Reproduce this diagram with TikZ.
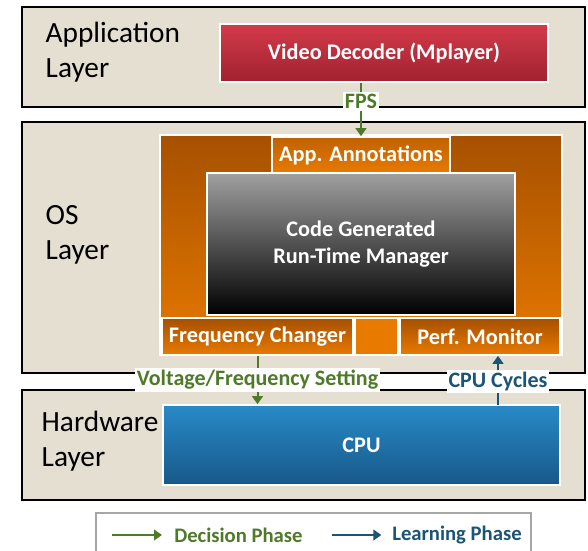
\documentclass[tikz,border=0pt]{standalone}
\usepackage{fontspec}
\setmainfont{Carlito}
\usetikzlibrary{arrows.meta,positioning}
\definecolor{layerbg}{RGB}{229,223,209}
\definecolor{decG}{RGB}{78,122,42}
\definecolor{learnB}{RGB}{28,84,118}
\definecolor{redT}{RGB}{212,58,74}
\definecolor{redB}{RGB}{160,34,48}
\definecolor{orgD}{RGB}{166,80,0}
\definecolor{orgL}{RGB}{232,122,0}
\definecolor{cpuT}{RGB}{40,138,200}
\definecolor{cpuB}{RGB}{24,88,136}

\begin{document}
\begin{tikzpicture}[x=0.75pt, y=-0.75pt,
  layer/.style={rectangle, draw=black, line width=2.2pt, fill=layerbg, inner sep=0pt},
  laytxt/.style={anchor=west, align=left, font=\fontsize{22}{26}\selectfont},
  blk/.style={rectangle, draw=white, line width=1.2pt, inner sep=0pt, text=white,
              align=center, font=\fontsize{16.7}{20}\selectfont\bfseries},
  orgbox/.style={blk, top color=orgD, bottom color=orgL},
  lbl/.style={fill=white, inner sep=1.5pt, font=\fontsize{16.5}{20}\selectfont\bfseries},
  decarrow/.style={draw=decG, line width=1.5pt, -{Triangle[length=6pt,width=8pt]}},
  learnarrow/.style={draw=learnB, line width=1.5pt, -{Triangle[length=6pt,width=8pt]}}]
  \useasboundingbox (0,0) rectangle (588,550);
  \fill[white] (0,0) rectangle (588,550);

  % layers
  \node[layer, minimum width=422.25pt, minimum height=75pt] (applayer) at (303.5,57) {};
  \node[layer, minimum width=422.25pt, minimum height=188.25pt] (oslayer) at (303.5,247.5) {};
  \node[layer, minimum width=422.25pt, minimum height=82.5pt] (hwlayer) at (303.5,445) {};
  \node[laytxt] (apptxt) at (41,52) {Application\\Layer};
  \node[laytxt] (ostxt) at (41,235) {OS\\Layer};
  \node[laytxt] (hwtxt) at (37,441) {Hardware\\Layer};

  % application
  \node[blk, top color=redT, bottom color=redB, minimum width=246pt, minimum height=43.5pt]
    (decoder) at (384,53) {Video Decoder (Mplayer)};

  % run-time manager
  \node[orgbox, minimum width=301.5pt, minimum height=165pt] (rtmframe) at (361,245) {};
  \node[orgbox, top color=orgD!60!orgL, minimum width=133.5pt, minimum height=27pt]
    (annot) at (361,155) {App. Annotations};
  \node[blk, top color=black!37, bottom color=black, minimum width=231pt, minimum height=106.5pt]
    (rtm) at (361,244) {Code Generated\\Run-Time Manager};
  \node[orgbox, minimum width=143.25pt, minimum height=27.75pt] (freqch) at (257.5,336.5) {Frequency Changer};
  \node[blk, fill=orgL, minimum width=32.25pt, minimum height=27.75pt] (midsq) at (376.5,336.5) {};
  \node[orgbox, minimum width=120pt, minimum height=27.75pt] (perfmon) at (480,336.5) {Perf. Monitor};

  % hardware
  \node[blk, top color=cpuT, bottom color=cpuB, minimum width=297.75pt, minimum height=60pt]
    (cpu) at (361.5,445) {CPU};

  % connectors
  \draw[decarrow] (decoder.south -| annot.north) -- node[lbl, text=decG, pos=0.35] (fps) {FPS} (annot.north);
  \draw[decarrow] (freqch.south) -- node[lbl, text=decG, pos=0.5] (vfset) {Voltage/Frequency Setting}
    (freqch.south |- cpu.north);
  \coordinate (cyc) at (498,405);
  \draw[learnarrow] (cyc) -- node[lbl, text=learnB, pos=0.48] (cycles) {CPU Cycles} (cyc |- perfmon.south);

  % legend
  \node[rectangle, draw=black!35, line width=1.5pt, minimum width=326.25pt, minimum height=39pt]
    (legend) at (313.5,539) {};
  \node[anchor=west, inner sep=0pt, text=decG, font=\fontsize{15.5}{18}\selectfont\bfseries]
    (dectxt) at (174,535) {Decision Phase};
  \node[anchor=west, inner sep=0pt, text=learnB, font=\fontsize{15.5}{18}\selectfont\bfseries]
    (learntxt) at (392,535) {Learning Phase};
  \coordinate (decstart) at (112,535);
  \coordinate (learnstart) at (332,535);
  \draw[decarrow] (decstart) -- ([xshift=-9pt]dectxt.west);
  \draw[learnarrow] (learnstart) -- ([xshift=-8pt]learntxt.west);
\end{tikzpicture}
\end{document}
